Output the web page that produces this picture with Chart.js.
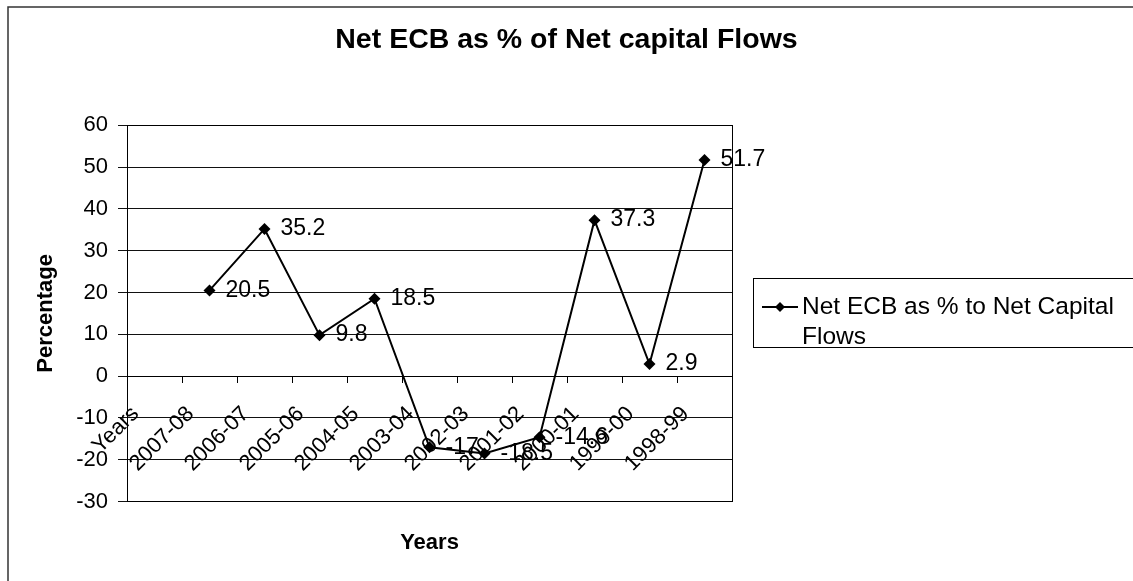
<!DOCTYPE html>
<html>
<head>
<meta charset="utf-8">
<title>Net ECB as % of Net capital Flows</title>
<script src="https://cdn.jsdelivr.net/npm/chart.js@4.4.1/dist/chart.umd.min.js"></script>
<style>
  html, body { margin: 0; padding: 0; background: #fff; }
  #wrap { width: 1133px; height: 581px; position: relative; }
</style>
</head>
<body>
<div id="wrap"><canvas id="ecbChart"></canvas></div>
<script>
const FONT = '"Liberation Sans", Arial, sans-serif';

// categories (first one is the stray "Years" label with no value)
const years = ['Years', '2007-08', '2006-07', '2005-06', '2004-05', '2003-04',
  '2002-03', '2001-02', '2000-01', '1999-00', '1998-99'];
// Net ECB as % of net capital flows
const ecbShare = [null, 20.5, 35.2, 9.8, 18.5, -17, -18.5, -14.6, 37.3, 2.9, 51.7];
const yMin = -30;
const yMax = 60;
const yStep = 10;
const seriesName = 'Net ECB as % to Net Capital Flows';
const legendLines = ['Net ECB as % to Net Capital', 'Flows'];

Chart.defaults.font.family = FONT;
Chart.defaults.color = '#000';

// frame, point labels, legend box and outer border
const chartDecor = {
  id: 'chartDecor',
  afterDatasetsDraw(chart) {
    const { ctx, chartArea } = chart;
    ctx.save();

    // plot area frame
    ctx.strokeStyle = '#000';
    ctx.lineWidth = 1;
    ctx.strokeRect(Math.round(chartArea.left) + 0.5, Math.round(chartArea.top) + 0.5,
      Math.round(chartArea.right - chartArea.left), Math.round(chartArea.bottom - chartArea.top));

    // value labels to the right of each point
    const meta = chart.getDatasetMeta(0);
    const values = chart.data.datasets[0].data;
    ctx.font = '23px ' + FONT;
    ctx.fillStyle = '#000';
    ctx.textAlign = 'left';
    ctx.textBaseline = 'middle';
    meta.data.forEach((pt, i) => {
      if (values[i] === null || pt.skip) return;
      ctx.fillText(String(values[i]), pt.x + 16, pt.y);
    });

    // legend
    const ds = chart.data.datasets[0];
    ctx.strokeRect(753.5, 278.5, 420, 69);
    ctx.strokeStyle = ds.borderColor;
    ctx.lineWidth = 2;
    ctx.beginPath();
    ctx.moveTo(762, 307);
    ctx.lineTo(798, 307);
    ctx.stroke();
    ctx.fillStyle = ds.pointBackgroundColor;
    ctx.beginPath();
    ctx.moveTo(780, 302);
    ctx.lineTo(785, 307);
    ctx.lineTo(780, 312);
    ctx.lineTo(775, 307);
    ctx.closePath();
    ctx.fill();
    ctx.fillStyle = '#000';
    ctx.font = '24.5px ' + FONT;
    legendLines.forEach((line, i) => ctx.fillText(line, 802, 307 + i * 30));

    // outer chart border (right and bottom edges fall outside the picture)
    ctx.strokeStyle = '#333';
    ctx.lineWidth = 1.5;
    ctx.beginPath();
    ctx.moveTo(8, 581);
    ctx.lineTo(8, 7);
    ctx.lineTo(1133, 7);
    ctx.stroke();

    ctx.restore();
  }
};

const ctx = document.getElementById('ecbChart').getContext('2d');
new Chart(ctx, {
  type: 'line',
  data: {
    labels: years,
    datasets: [{
      label: seriesName,
      data: ecbShare,
      borderColor: '#000',
      backgroundColor: '#000',
      pointBackgroundColor: '#000',
      pointBorderColor: '#000',
      borderWidth: 2,
      pointStyle: 'rectRot',
      pointRadius: 6,
      pointBorderWidth: 0,
      tension: 0,
      fill: false,
      spanGaps: false
    }]
  },
  options: {
    responsive: true,
    maintainAspectRatio: false,
    animation: false,
    layout: {
      padding: { left: 0, right: 0, top: 0, bottom: 25 }
    },
    plugins: {
      legend: { display: false },
      tooltip: { enabled: false },
      title: {
        display: true,
        text: 'Net ECB as % of Net capital Flows',
        color: '#000',
        font: { size: 28.5, weight: 'bold' },
        padding: { top: 23, bottom: 68 }
      }
    },
    scales: {
      x: {
        type: 'category',
        position: { y: 0 },
        offset: true,
        grid: {
          offset: true,
          drawOnChartArea: false,
          drawTicks: true,
          tickLength: 6,
          color: '#000'
        },
        border: { display: true, color: '#000', width: 1 },
        ticks: {
          autoSkip: false,
          minRotation: 45,
          maxRotation: 45,
          padding: 19,
          labelOffset: -19,
          color: '#000',
          font: { size: 22 }
        }
      },
      x2: {
        type: 'category',
        labels: years,
        position: 'bottom',
        display: true,
        grid: { display: false, drawTicks: false },
        border: { display: false },
        ticks: { display: false },
        title: {
          display: true,
          text: 'Years',
          color: '#000',
          font: { size: 22, weight: 'bold' },
          padding: { top: 28, bottom: 0 }
        }
      },
      y: {
        min: yMin,
        max: yMax,
        afterFit(scale) { scale.width = 127; },
        grid: {
          color: '#111',
          lineWidth: 1,
          drawTicks: true,
          tickLength: 9
        },
        border: { display: true, color: '#000', width: 1 },
        ticks: {
          stepSize: yStep,
          padding: 10,
          color: '#000',
          font: { size: 22 }
        },
        title: {
          display: true,
          text: 'Percentage',
          color: '#000',
          font: { size: 22, weight: 'bold' },
          padding: { top: 33, bottom: 0 }
        }
      },
      // empty right-hand axis that keeps room for the legend
      yRight: {
        type: 'linear',
        position: 'right',
        display: true,
        afterFit(scale) { scale.width = 401; },
        grid: { display: false, drawTicks: false },
        border: { display: false },
        ticks: { display: false }
      }
    }
  },
  plugins: [chartDecor]
});
</script>
</body>
</html>
